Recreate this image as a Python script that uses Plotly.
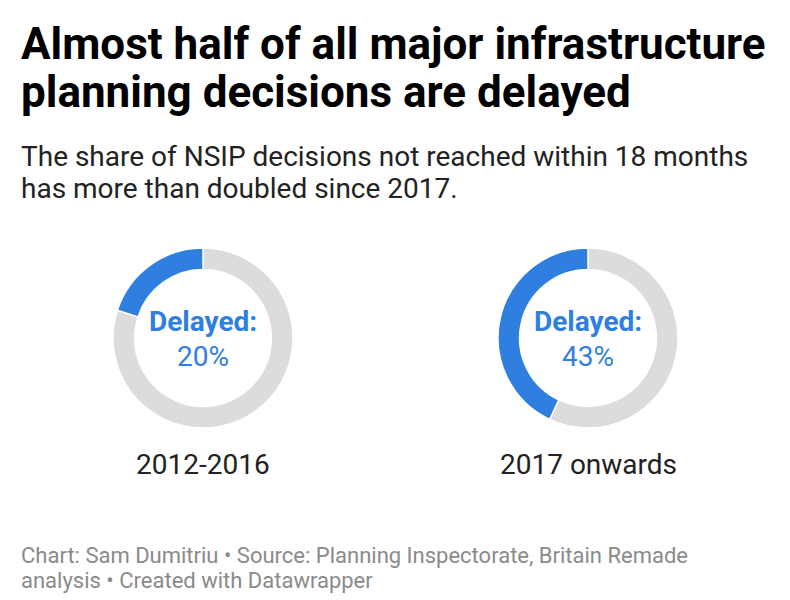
import plotly.graph_objects as go

periods = ["2012-2016", "2017 onwards"]
delayed = [20, 43]
on_time = [80, 57]
slice_labels = ["Not delayed", "Delayed"]

title_lines = ["Almost half of all major infrastructure", "planning decisions are delayed"]
subtitle_lines = ["The share of NSIP decisions not reached within 18 months",
                  "has more than doubled since 2017."]
footer_lines = ["Chart: Sam Dumitriu • Source: Planning Inspectorate, Britain Remade",
                "analysis • Created with Datawrapper"]

OFF = 8  # page body margin
FW, FH = 790 - OFF, 600 - OFF
BLUE = "#2f7fe1"
GREY = "#dcdcdc"
FONT = "Roboto"

centers_x = [203, 588]
center_y = 338
R = 90


def px_x(px):
    return (px - OFF) / FW


def px_y(py):
    return 1 - (py - OFF) / FH


fig = go.Figure()
for i, p in enumerate(periods):
    cx = centers_x[i]
    fig.add_trace(go.Pie(
        labels=slice_labels,
        values=[on_time[i], delayed[i]],
        hole=0.76,
        sort=False,
        direction="clockwise",
        rotation=0,
        marker=dict(colors=[GREY, BLUE], line=dict(color="white", width=1.5)),
        textinfo="none",
        hoverinfo="label+percent",
        showlegend=False,
        domain=dict(x=[px_x(cx - R), px_x(cx + R)],
                    y=[px_y(center_y + R), px_y(center_y - R)]),
    ))

ann = []
for j, t in enumerate(title_lines):
    ann.append(dict(text=f"<b>{t}</b>", x=px_x(19), y=px_y([44.5, 92][j]), xanchor="left", yanchor="middle",
                    font=dict(family=FONT, size=44, color="#000000")))
for j, t in enumerate(subtitle_lines):
    ann.append(dict(text=t, x=px_x(19), y=px_y([156.5, 189][j]), xanchor="left", yanchor="middle",
                    font=dict(family=FONT, size=28, color="#222222")))
for i, p in enumerate(periods):
    cx = centers_x[i]
    ann.append(dict(text="<b>Delayed:</b>", x=px_x(cx), y=px_y(321.5), xanchor="center", yanchor="middle",
                    font=dict(family=FONT, size=28, color=BLUE)))
    ann.append(dict(text=f"{delayed[i]}%", x=px_x(cx), y=px_y(357), xanchor="center", yanchor="middle",
                    font=dict(family=FONT, size=28, color=BLUE)))
    ann.append(dict(text=p, x=px_x(cx), y=px_y(464), xanchor="center", yanchor="middle",
                    font=dict(family=FONT, size=28, color="#222222")))
for j, t in enumerate(footer_lines):
    ann.append(dict(text=t, x=px_x(19), y=px_y([555, 580][j]), xanchor="left", yanchor="middle",
                    font=dict(family=FONT, size=22, color="#8a8a8a")))
for a in ann:
    a.update(xref="paper", yref="paper", showarrow=False)

fig.update_layout(
    width=FW, height=FH,
    margin=dict(l=0, r=0, t=0, b=0),
    paper_bgcolor="white", plot_bgcolor="white",
    annotations=ann,
)
fig.write_html("out.html")
